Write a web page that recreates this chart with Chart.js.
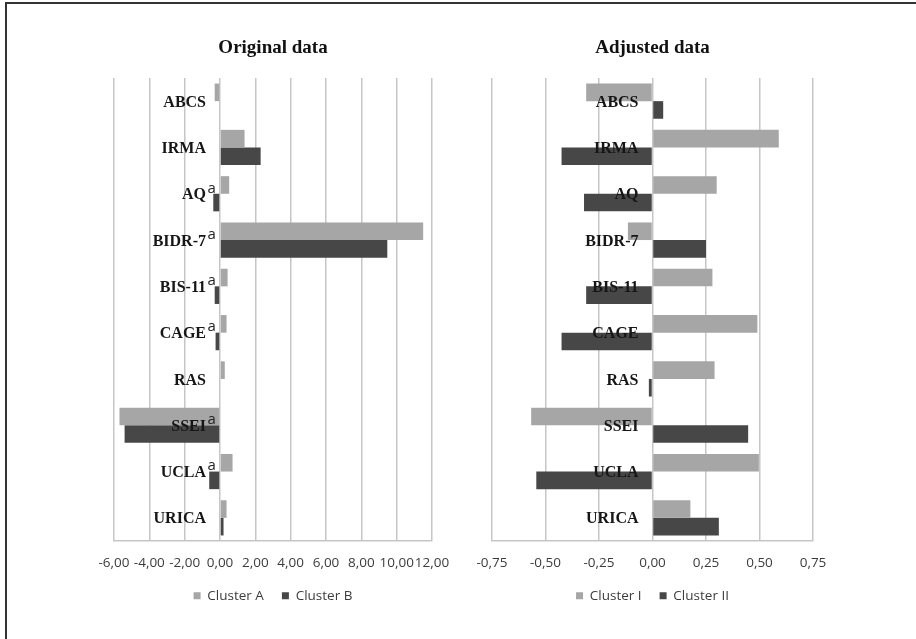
<!DOCTYPE html>
<html>
<head>
<meta charset="utf-8">
<script src="https://cdn.jsdelivr.net/npm/chart.js@4.4.1/dist/chart.umd.min.js"></script>
<style>
  html, body { margin: 0; padding: 0; background: #fff; width: 916px; height: 639px; overflow: hidden; }
  #frame { position: absolute; left: 5px; top: 2px; width: 930px; height: 660px; border-top: 2px solid #333; border-left: 2px solid #333; }
  canvas { position: absolute; top: 0; }
  #c1 { left: 0; }
  #c2 { left: 458px; }
</style>
</head>
<body>
<div id="frame"></div>
<canvas id="c1" width="470" height="639"></canvas>
<canvas id="c2" width="458" height="639"></canvas>
<script>
const categories = ['ABCS', 'IRMA', 'AQ', 'BIDR-7', 'BIS-11', 'CAGE', 'RAS', 'SSEI', 'UCLA', 'URICA'];
const superscriptOriginal = ['', '', 'a', 'a', 'a', 'a', '', 'a', 'a', ''];
const clusterA = [-0.30, 1.39, 0.52, 11.50, 0.43, 0.37, 0.27, -5.69, 0.71, 0.37];
const clusterB = [0.00, 2.30, -0.38, 9.47, -0.30, -0.25, 0.00, -5.40, -0.61, 0.20];
const clusterI = [-0.31, 0.59, 0.30, -0.115, 0.28, 0.49, 0.29, -0.567, 0.497, 0.177];
const clusterII = [0.05, -0.425, -0.32, 0.25, -0.31, -0.425, -0.017, 0.447, -0.543, 0.31];
const originalTicks = { min: -6, max: 12, step: 2 };
const adjustedTicks = { min: -0.75, max: 0.75, step: 0.25 };

const LIGHT = '#a6a6a6';
const DARK = '#474747';
const GRID = '#c6c6c6';

const catLabelPlugin = {
  id: 'catLabels',
  afterDatasetsDraw(chart, args, opts) {
    const ctx = chart.ctx;
    const xs = chart.scales.x, ys = chart.scales.y;
    const x0 = xs.getPixelForValue(0) - 14;
    ctx.save();
    categories.forEach((c, i) => {
      const y = ys.getPixelForValue(i) + 1.5;
      ctx.font = 'bold 16px "Liberation Serif", "Times New Roman", serif';
      ctx.fillStyle = '#161616';
      ctx.textAlign = 'right';
      ctx.textBaseline = 'middle';
      ctx.fillText(c, x0, y);
      const sup = opts.sup ? opts.sup[i] : '';
      if (sup) {
        ctx.font = '15px "Open Sans", sans-serif';
        ctx.textAlign = 'left';
        ctx.fillStyle = '#222';
        ctx.fillText(sup, x0 + 1.5, y - 7);
      }
    });
    ctx.restore();
  }
};

function fmt(v) { return Number(v).toFixed(2).replace('.', ','); }

function makeChart(id, title, labels, d1, d2, ticks, padLeft, padRight, sup) {
  return new Chart(document.getElementById(id), {
    type: 'bar',
    data: {
      labels: categories,
      datasets: [
        { label: labels[0], data: d1, backgroundColor: LIGHT, borderWidth: 0 },
        { label: labels[1], data: d2, backgroundColor: DARK, borderWidth: 0 }
      ]
    },
    options: {
      indexAxis: 'y',
      responsive: false,
      animation: false,
      devicePixelRatio: 1,
      layout: { padding: { left: padLeft, right: padRight, top: 0, bottom: 26.5 } },
      datasets: { bar: { categoryPercentage: 0.76, barPercentage: 1.0 } },
      scales: {
        x: {
          min: ticks.min, max: ticks.max,
          afterFit: (scale) => { scale.height = 30; },
          ticks: {
            stepSize: ticks.step, autoSkip: false, maxRotation: 0, minRotation: 0,
            padding: 14.5,
            color: '#3c3c3c',
            font: { family: '"Open Sans", sans-serif', size: 13.5 },
            callback: (v) => fmt(v)
          },
          grid: { color: GRID, lineWidth: 1.5, drawTicks: false },
          border: { display: true, color: GRID, width: 1.5 }
        },
        y: { display: false }
      },
      plugins: {
        title: {
          display: true, text: title, color: '#111',
          font: { family: '"Liberation Serif", "Times New Roman", serif', size: 19, weight: 'bold' },
          padding: { top: 36.6, bottom: 18.6 }
        },
        legend: {
          display: true, position: 'bottom',
          labels: {
            boxWidth: 7, boxHeight: 7, padding: 18, color: '#3c3c3c',
            font: { family: '"Open Sans", sans-serif', size: 13.5 }
          }
        },
        tooltip: { enabled: false },
        catLabels: { sup: sup }
      }
    },
    plugins: [catLabelPlugin]
  });
}

makeChart('c1', 'Original data', ['Cluster A', 'Cluster B'], clusterA, clusterB, originalTicks, 114, 38, superscriptOriginal);
makeChart('c2', 'Adjusted data', ['Cluster I', 'Cluster II'], clusterI, clusterII, adjustedTicks, 34, 103, null);
</script>
</body>
</html>
